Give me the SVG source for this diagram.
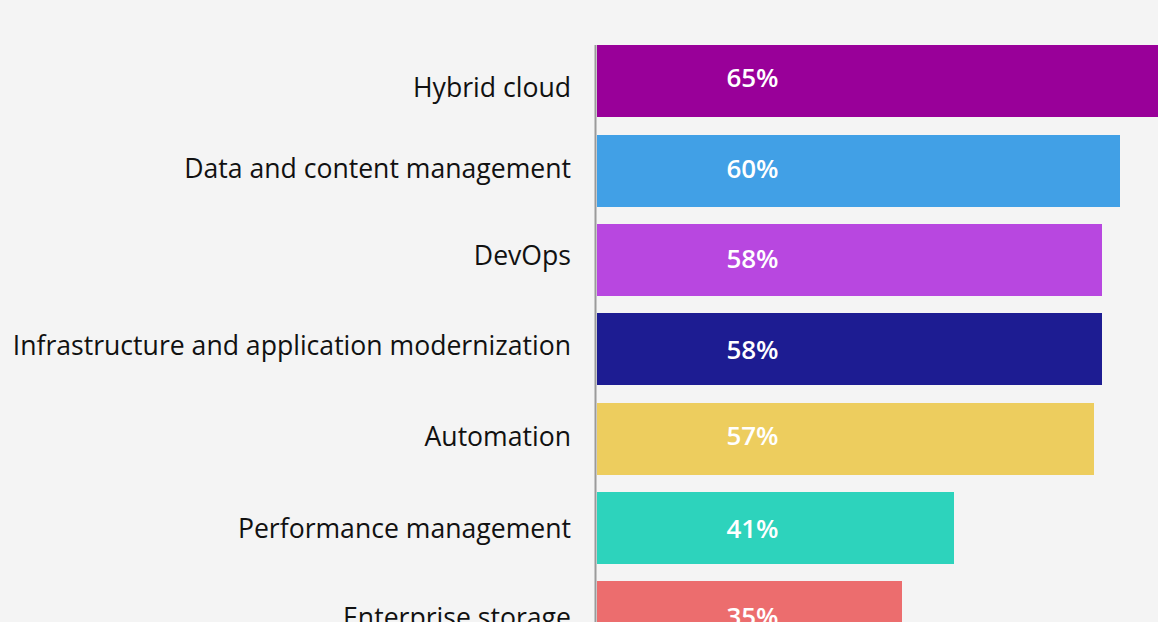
<svg xmlns="http://www.w3.org/2000/svg" width="1158" height="622" viewBox="0 0 1158 622">
<style>
.lbl{font-family:"Open Sans","Noto Sans",sans-serif;font-size:26.6px;fill:#111;text-anchor:end}
.val{font-family:"Open Sans","Noto Sans",sans-serif;font-size:26px;font-weight:600;fill:#fff;text-anchor:middle}
</style>
<rect width="1158" height="622" fill="#f4f4f4"/>
<g id="bar-hybrid-cloud"><rect x="597" y="45" width="566" height="72" fill="#990099"/><text class="lbl" x="571" y="97">Hybrid cloud</text><text class="val" x="752.5" y="87">65%</text></g>
<g id="bar-data-content"><rect x="597" y="135" width="523" height="72" fill="#41a0e6"/><text class="lbl" x="571" y="177.5">Data and content management</text><text class="val" x="752.5" y="177.5">60%</text></g>
<g id="bar-devops"><rect x="597" y="224" width="505" height="72" fill="#b847e0"/><text class="lbl" x="571" y="265">DevOps</text><text class="val" x="752.5" y="268">58%</text></g>
<g id="bar-infra"><rect x="597" y="313" width="505" height="72" fill="#1d1c92"/><text class="lbl" x="571" y="355">Infrastructure and application modernization</text><text class="val" x="752.5" y="359">58%</text></g>
<g id="bar-automation"><rect x="597" y="403" width="497" height="72" fill="#edcd5e"/><text class="lbl" x="571" y="446">Automation</text><text class="val" x="752.5" y="445">57%</text></g>
<g id="bar-performance"><rect x="597" y="492" width="357" height="72" fill="#2dd3bc"/><text class="lbl" x="571" y="538">Performance management</text><text class="val" x="752.5" y="538">41%</text></g>
<g id="bar-storage"><rect x="597" y="581" width="305" height="72" fill="#ec6d6e"/><text class="lbl" x="571" y="627">Enterprise storage</text><text class="val" x="752.5" y="626">35%</text></g>
<g id="connectors"><line x1="595.5" y1="45" x2="595.5" y2="622" stroke="#9a9a9a" stroke-width="2"/></g>
</svg>
